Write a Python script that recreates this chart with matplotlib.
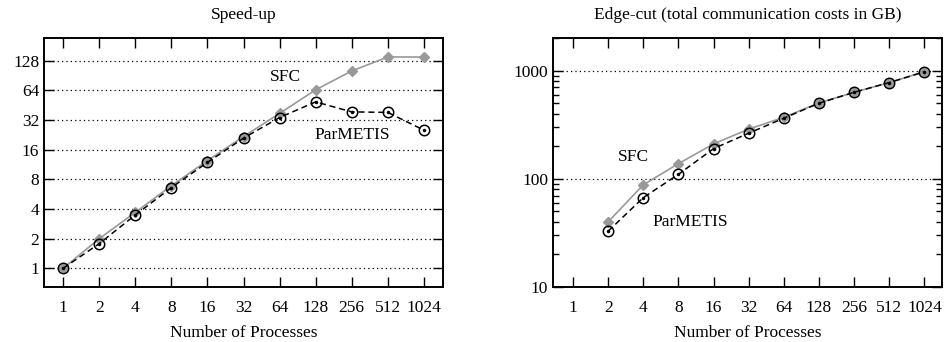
import matplotlib
matplotlib.use('Agg')
import matplotlib.pyplot as plt
from matplotlib.ticker import FixedLocator, LogLocator, NullFormatter
import numpy as np

plt.rcParams['font.family'] = ['Liberation Serif', 'DejaVu Serif']
plt.rcParams['font.size'] = 12.5

# data
procs = [1, 2, 4, 8, 16, 32, 64, 128, 256, 512, 1024]
proc_labels = [str(p) for p in procs]

speedup_sfc = [1, 2.0, 3.7, 6.9, 12.4, 21.8, 37.4, 65, 101, 140, 140]
speedup_parmetis = [1, 1.78, 3.48, 6.6, 11.9, 21, 34, 49, 38.8, 38.3, 25.3]

edge_procs = [2, 4, 8, 16, 32, 64, 128, 256, 512, 1024]
edge_sfc = [40, 88, 138, 210, 288, 370, 502, 630, 775, 975]
edge_parmetis = [32.8, 67, 110, 190, 264, 363, 500, 630, 775, 975]

speedup_ticks = [1, 2, 4, 8, 16, 32, 64, 128]
edge_ticks = [10, 100, 1000]

sfc_color = '#999999'

fig = plt.figure(figsize=(9.45, 3.42), dpi=100)
ax1 = fig.add_axes([44/945, 1-287/342, 399/945, 249/342])
ax2 = fig.add_axes([553/945, 1-287/342, 389/945, 249/342])


def draw(ax, x, sfc, par):
    ax.plot(x, sfc, '-', color=sfc_color, lw=1.2, marker='D', ms=5.5,
            mfc=sfc_color, mec=sfc_color, zorder=3)
    ax.plot(x, par, '--', color='black', lw=1.1, dashes=(4, 2.5),
            marker='o', ms=7.5, mfc='none', mec='black', mew=1.1, zorder=4)
    ax.plot(x, par, linestyle='none', marker='o', ms=1.5, color='black',
            zorder=5)


def style(ax):
    ax.set_xscale('log', base=2)
    ax.xaxis.set_major_locator(FixedLocator(procs))
    ax.set_xticklabels(proc_labels)
    ax.xaxis.set_minor_formatter(NullFormatter())
    ax.set_xlabel('Number of Processes', labelpad=7)
    ax.tick_params(which='both', direction='in', top=True, right=True,
                   labelsize=12.5)
    ax.tick_params(which='major', length=7, width=1)
    ax.tick_params(which='minor', length=4, width=1)
    ax.tick_params(axis='x', pad=9)
    for s in ax.spines.values():
        s.set_linewidth(1.4)
    ax.grid(axis='y', which='major', linestyle=(0, (1, 2.5)),
            color='black', lw=0.9)


# speed-up
draw(ax1, procs, speedup_sfc, speedup_parmetis)
style(ax1)
ax1.set_yscale('log', base=2)
ax1.set_xlim(2**-0.53, 2**10.53)
ax1.set_ylim(2**-0.63, 2**7.77)
ax1.yaxis.set_major_locator(FixedLocator(speedup_ticks))
ax1.set_yticklabels([str(t) for t in speedup_ticks])
ax1.yaxis.set_minor_formatter(NullFormatter())
ax1.yaxis.set_minor_locator(FixedLocator([]))
ax1.set_title('Speed-up', fontsize=12.5, pad=14)
ax1.text(2**6.15, 88, 'SFC', ha='center', va='center')
ax1.text(2**8.02, 22.5, 'ParMETIS', ha='center', va='center')

# edge-cut
draw(ax2, edge_procs, edge_sfc, edge_parmetis)
style(ax2)
ax2.set_yscale('log')
ax2.set_xlim(2**-0.57, 2**10.5)
ax2.set_ylim(10, 2000)
ax2.yaxis.set_major_locator(FixedLocator(edge_ticks))
ax2.set_yticklabels([str(t) for t in edge_ticks])
ax2.yaxis.set_minor_locator(LogLocator(base=10, subs=np.arange(2, 10)))
ax2.yaxis.set_minor_formatter(NullFormatter())
ax2.set_title('Edge-cut (total communication costs in GB)', fontsize=12.5,
              pad=14)
ax2.text(2**1.71, 159, 'SFC', ha='center', va='center')
ax2.text(2**3.33, 40, 'ParMETIS', ha='center', va='center')

fig.savefig('out.png', dpi=100)
